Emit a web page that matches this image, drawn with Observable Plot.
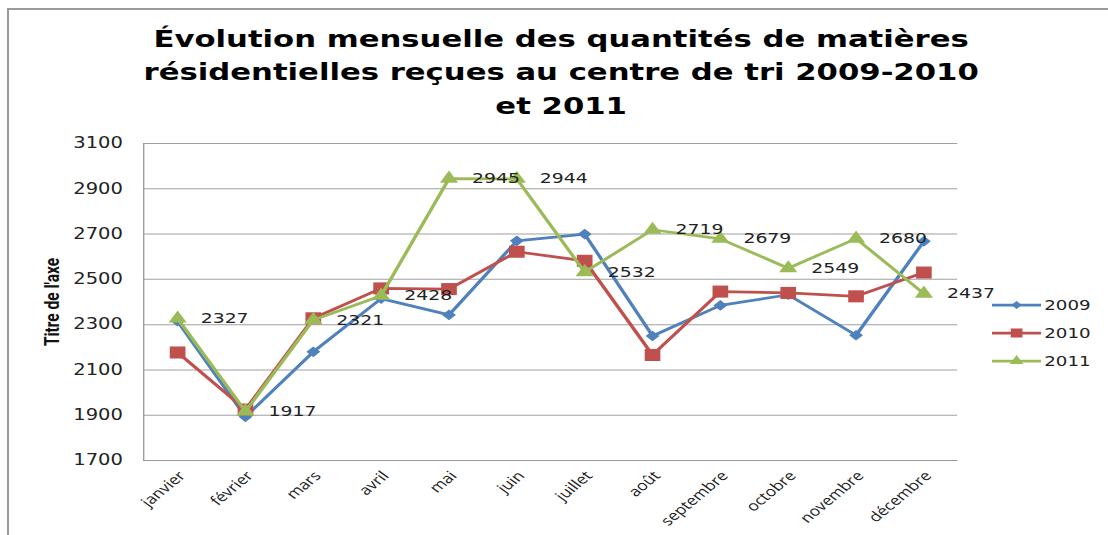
<!DOCTYPE html>
<html>
<head>
<meta charset="utf-8">
<script src="https://cdn.jsdelivr.net/npm/d3@7"></script>
<script src="https://cdn.jsdelivr.net/npm/@observablehq/plot@0.6"></script>
<style>
  html, body { margin: 0; padding: 0; background: #fff; overflow: hidden; width: 1108px; height: 535px; }
  #border { position: absolute; left: 7px; top: 8px; width: 1101px; height: 527px;
            border-top: 2px solid #9a9a9a; border-left: 2px solid #9a9a9a; box-sizing: border-box; }
  #stretch { position: absolute; left: 0; top: 0; width: 852px; transform: scaleX(1.3005); transform-origin: 0 0; }
  #title { height: 125px; box-sizing: border-box; padding-top: 22.5px; padding-left: 11px;
           text-align: center; font-family: "DejaVu Sans", sans-serif; font-weight: bold;
           font-size: 23.6px; line-height: 33.5px; color: #000; white-space: nowrap; }
</style>
</head>
<body>
<div id="border"></div>
<div id="stretch">
  <div id="title">Évolution mensuelle des quantités de matières<br>résidentielles reçues au centre de tri 2009-2010<br>et 2011</div>
  <div id="chart"></div>
</div>
<script>
// ---- data ----
const months = ["janvier", "février", "mars", "avril", "mai", "juin", "juillet", "août", "septembre", "octobre", "novembre", "décembre"];
const years = ["2009", "2010", "2011"];
const values2009 = [2315, 1893, 2180, 2415, 2343, 2670, 2700, 2250, 2385, 2432, 2253, 2668];
const values2010 = [2177, 1925, 2328, 2460, 2457, 2622, 2582, 2166, 2446, 2440, 2425, 2530];
const values2011 = [2327, 1917, 2321, 2428, 2945, 2944, 2532, 2719, 2679, 2549, 2680, 2437];
const yTicks = [1700, 1900, 2100, 2300, 2500, 2700, 2900, 3100];
const yTitle = "Titre de l'axe";

// ---- styles ----
const colors = ["#4F81BD", "#C0504D", "#9BBB59"];
const symbols = ["diamond2", "square", "triangle"];
const d3symbols = [d3.symbolDiamond2, d3.symbolSquare, d3.symbolTriangle];
const radii = [4.8, 6.8, 5.2];

const W = 852, H = 410, mT = 18, mB = 75, mL = 110, mR = 116;

const seriesValues = [values2009, values2010, values2011];
const rows = seriesValues.map(vals => vals.map((v, j) => ({m: j, v})));

const seriesMarks = [];
rows.forEach((r, i) => {
  seriesMarks.push(Plot.line(r, {x: "m", y: "v", stroke: colors[i], strokeWidth: 2.75}));
  seriesMarks.push(Plot.dot(r, {x: "m", y: "v", symbol: () => symbols[i], fill: colors[i], r: radii[i]}));
});

function legend() {
  const g = d3.create("svg:g");
  const x0 = W - mR;
  const yMid = mT + (H - mT - mB) / 2;
  years.forEach((name, i) => {
    const y = yMid + 3.5 + i * 28;
    g.append("line").attr("x1", x0 + 26.8).attr("x2", x0 + 64.5).attr("y1", y).attr("y2", y)
      .attr("stroke", colors[i]).attr("stroke-width", 2.75);
    g.append("path").attr("transform", `translate(${x0 + 45.7},${y})`)
      .attr("d", d3.symbol(d3symbols[i], Math.PI * (radii[i] * 0.75) ** 2)())
      .attr("fill", colors[i]);
    g.append("text").attr("x", x0 + 67).attr("y", y).attr("dy", "0.36em")
      .attr("text-anchor", "start")
      .attr("font-family", "DejaVu Sans").attr("font-size", 14).attr("fill", "#222").text(name);
  });
  return g.node();
}

const chart = Plot.plot({
  width: W, height: H,
  marginTop: mT, marginBottom: mB, marginLeft: mL, marginRight: mR,
  style: {fontFamily: "DejaVu Sans", fontSize: "15px", color: "#222", background: "transparent"},
  x: {type: "linear", domain: [-0.5, 11.5], axis: null},
  y: {domain: [1700, 3100]},
  marks: [
    Plot.gridY(yTicks, {stroke: "#a0a0a0", strokeOpacity: 1, strokeWidth: 1}),
    Plot.ruleX([-0.5], {stroke: "#999", strokeWidth: 1}),
    Plot.ruleY([1700], {stroke: "#999", strokeWidth: 1}),
    Plot.axisY(yTicks, {tickSize: 0, tickPadding: 16, tickFormat: d => String(d), label: null, fontSize: 15, fill: "#222"}),
    Plot.text(months, {x: (d, i) => i, text: d => d, frameAnchor: "bottom", rotate: -47, textAnchor: "end",
      lineAnchor: "middle", dx: 3.5, dy: 13, fontFamily: "Open Sans", fontSize: 13.5, fill: "#222"}),
    Plot.text([yTitle], {text: d => d, frameAnchor: "left", rotate: -90, dx: -70, textAnchor: "middle",
      fontFamily: "Roboto", fontWeight: "bold", fontSize: 15.5, fill: "#111"}),
    ...seriesMarks,
    Plot.text(rows[2], {x: "m", y: "v", text: d => String(d.v), dx: 17.7, textAnchor: "start",
      fontSize: 14.5, fill: "#222"}),
    legend
  ]
});
document.getElementById("chart").appendChild(chart);
</script>
</body>
</html>
